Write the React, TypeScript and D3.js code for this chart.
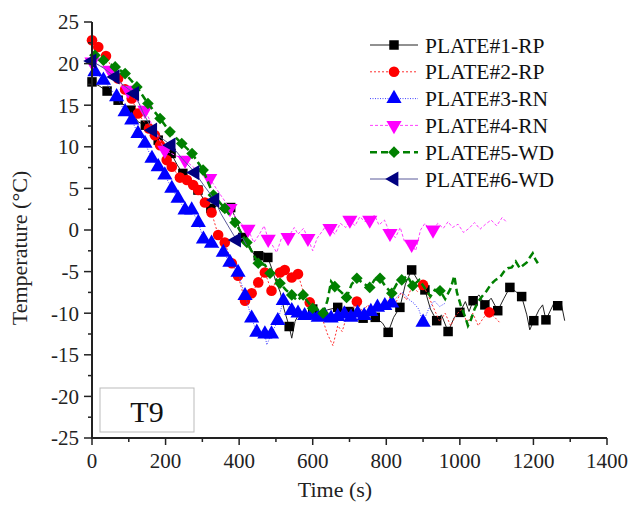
import React, { useEffect, useRef } from "react";
import * as d3 from "d3";

// [time (s), temperature (°C), marker?]
const plate1 = [
  [0, 17.8, 1], [20, 17.3], [41, 16.7, 1], [56, 16.2], [71, 15.6, 1], [88, 15.0], [106, 14.4, 1], [125, 13.0],
  [145, 12.6, 1], [162, 11.6], [180, 10.8, 1], [198, 10.0], [215, 9.2, 1], [232, 7.8], [247, 6.8, 1], [268, 5.9],
  [288, 4.8, 1], [305, 3.6], [323, 2.6, 1], [340, 2.9], [355, 2.2], [377, 2.7, 1], [393, 1.2], [410, -0.9, 1],
  [425, -1.5], [438, -2.8], [452, -3.1, 1], [465, -2.6], [478, -3.3, 1], [490, -4.8], [500, -6.2], [512, -7.5],
  [522, -9.5], [536, -11.6, 1], [543, -13.0], [552, -11.0], [565, -9.8], [580, -10.4], [600, -9.5, 1], [620, -10.0],
  [640, -9.6], [668, -9.3, 1], [685, -10.5], [700, -9.8, 1], [720, -10.2], [737, -10.6, 1], [755, -9.5], [770, -10.5, 1],
  [790, -11.2], [805, -12.3, 1], [820, -10.5], [837, -9.3, 1], [852, -6.5], [869, -4.8, 1], [885, -6.0], [905, -7.2, 1],
  [920, -9.5], [937, -10.9, 1], [950, -10.2], [968, -12.2, 1], [985, -10.5], [1000, -9.9, 1], [1015, -8.6], [1025, -9.8],
  [1036, -8.5, 1], [1052, -7.8], [1068, -9.0, 1], [1085, -8.2], [1103, -9.7, 1], [1120, -8.2], [1136, -6.9, 1],
  [1152, -7.4], [1168, -8.0, 1], [1182, -10.2], [1190, -12.0], [1201, -10.9, 1], [1215, -9.6], [1225, -9.0],
  [1234, -10.8, 1], [1248, -9.5], [1258, -8.6], [1266, -9.1, 1], [1275, -8.7], [1285, -10.9],
];

const plate2 = [
  [0, 22.8, 1], [17, 22.0, 1], [38, 20.9, 1], [55, 19.4], [71, 18.2, 1], [90, 16.9, 1], [108, 15.8, 1], [125, 14.0, 1],
  [140, 13.1], [155, 12.2, 1], [171, 11.4, 1], [185, 10.2, 1], [203, 8.4, 1], [217, 7.6, 1], [239, 6.3, 1], [258, 6.0, 1],
  [275, 5.4, 1], [289, 4.8, 1], [307, 3.3, 1], [325, 2.1, 1], [343, -0.6, 1], [361, -1.5, 1], [380, -4.0, 1],
  [397, -5.5, 1], [416, -8.5, 1], [434, -7.6, 1], [452, -6.3, 1], [470, -5.1, 1], [488, -7.3, 1], [511, -5.1, 1],
  [524, -4.8, 1], [543, -5.7, 1], [560, -5.3, 1], [575, -7.5], [592, -8.7, 1], [610, -9.5], [625, -10.5], [640, -12.5],
  [655, -13.9], [668, -11.5], [680, -12.2], [695, -10.0], [708, -9.5], [720, -8.6, 1], [735, -9.8], [750, -9.0],
  [765, -10.2], [780, -8.8], [795, -9.5], [810, -8.0], [825, -8.8], [840, -7.5], [855, -8.4], [870, -6.8], [885, -7.4],
  [900, -6.6, 1], [915, -8.0], [930, -9.5], [945, -11.0], [960, -10.0], [975, -11.5], [990, -10.2], [1005, -9.5],
  [1020, -11.2], [1035, -10.0], [1050, -11.5], [1065, -10.5], [1080, -9.9, 1], [1095, -10.5], [1110, -11.2],
];

const plate3 = [
  [0, 19.3], [8, 19.0, 1], [31, 18.0, 1], [50, 17.0], [67, 16.0, 1], [90, 14.2, 1], [108, 13.2, 1], [125, 11.6, 1],
  [144, 10.4, 1], [163, 8.6, 1], [180, 7.6, 1], [198, 6.6, 1], [217, 5.0, 1], [234, 3.8, 1], [253, 2.4, 1], [271, 2.4, 1],
  [289, 0.9, 1], [303, -1.1, 1], [325, -1.6, 1], [342, -2.0], [357, -2.7, 1], [375, -3.9, 1], [397, -5.1, 1],
  [416, -7.9, 1], [434, -10.6, 1], [448, -12.3, 1], [470, -12.5, 1], [475, -13.8], [488, -12.5, 1], [505, -10.9, 1],
  [520, -8.5, 1], [543, -9.7, 1], [560, -10.0, 1], [578, -10.3, 1], [597, -10.2, 1], [615, -10.5, 1], [633, -10.3, 1],
  [650, -10.6, 1], [668, -10.4, 1], [686, -10.1, 1], [704, -10.5, 1], [722, -10.0, 1], [740, -10.3, 1], [758, -9.8, 1],
  [776, -9.3, 1], [796, -9.1, 1], [815, -8.8, 1], [830, -8.0], [845, -7.5], [860, -8.3], [875, -8.8], [888, -9.5],
  [900, -11.1, 1], [915, -9.5], [930, -8.5], [945, -9.2], [960, -8.8],
];

const plate4 = [
  [0, 20.2, 1], [20, 19.8], [49, 19.2, 1], [70, 18.0], [98, 16.8, 1], [120, 15.6], [144, 14.4, 1], [170, 12.0],
  [198, 9.6, 1], [225, 9.0], [253, 8.4, 1], [285, 7.2], [320, 6.2, 1], [345, 4.5], [375, 2.6, 1], [395, 1.2], [410, 0.6],
  [424, 0.1, 1], [440, -1.5], [455, -0.5], [468, 0.5], [479, -1.1, 1], [490, -1.8], [502, -2.7], [515, -1.0],
  [533, -0.9, 1], [550, 0.3], [560, -0.5], [575, 0.2], [587, -1.0, 1], [600, -2.5], [612, -1.0], [625, -0.2], [636, 0.5],
  [647, 0.2, 1], [660, -0.5], [675, 0.8], [690, 0.3], [701, 1.2, 1], [715, 0.5], [728, 1.6], [742, 1.0], [755, 1.2, 1],
  [768, 1.8], [780, 0.6], [795, 1.2], [810, -0.4, 1], [825, -0.9], [838, 0.3], [850, -1.5], [869, -1.7, 1], [880, -2.5],
  [893, 0.0], [905, 0.8], [915, 0.2], [927, 0.0, 1], [940, 0.8], [955, 0.2], [968, 1.0], [980, 0.3], [995, 0.7],
  [1010, -0.3], [1025, 0.2], [1040, 0.9], [1055, 0.1], [1070, 0.7], [1085, 1.2], [1100, 0.5], [1115, 1.5], [1128, 0.9],
];

const plate5 = [
  [0, 21.3], [8, 21.0, 1], [31, 20.4, 1], [63, 19.6, 1], [90, 18.8, 1], [122, 17.2, 1], [152, 15.2, 1], [185, 13.4, 1],
  [212, 11.8, 1], [244, 10.4, 1], [272, 9.2, 1], [302, 7.2, 1], [330, 4.2, 1], [361, 2.6, 1], [389, 0.9, 1],
  [421, -1.5, 1], [437, -2.8], [452, -4.0, 1], [470, -4.2], [484, -5.2, 1], [511, -6.4, 1], [527, -7.2], [543, -7.8, 1],
  [558, -8.5], [574, -7.8, 1], [586, -8.6], [600, -9.4, 1], [614, -9.6], [628, -10.0, 1], [640, -8.5], [650, -6.2],
  [660, -6.8, 1], [676, -7.4], [692, -8.1, 1], [706, -6.5], [720, -5.8, 1], [737, -6.4], [755, -6.9, 1], [768, -6.0],
  [783, -5.8, 1], [798, -6.8], [815, -7.6, 1], [828, -6.5], [842, -6.0, 1], [857, -5.5], [872, -6.7, 1], [890, -6.0],
  [905, -7.0], [920, -8.0], [932, -7.2], [946, -7.3, 1], [960, -8.3], [975, -7.0], [985, -5.5], [992, -7.5],
  [1002, -9.0], [1015, -10.5], [1022, -11.5], [1030, -10.8], [1040, -9.5], [1050, -8.6], [1060, -8.0], [1073, -7.3],
  [1085, -6.5], [1097, -6.0], [1109, -5.7], [1120, -5.0], [1130, -4.6], [1141, -4.5], [1152, -3.8], [1163, -4.6],
  [1173, -4.2], [1182, -3.9], [1190, -3.3], [1198, -2.8], [1205, -3.5], [1212, -4.0],
];

const plate6 = [
  [0, 20.3, 1], [30, 19.5], [63, 18.4, 1], [85, 17.4], [116, 16.4, 1], [140, 14.0], [165, 12.0, 1], [190, 11.0],
  [215, 10.2, 1], [245, 8.6], [280, 6.9, 1], [305, 5.3], [334, 3.6, 1], [350, 2.0], [370, 0.5], [393, -1.2, 1],
  [410, -1.0], [420, -1.8],
];

const seriesNames = ["PLATE#1-RP", "PLATE#2-RP", "PLATE#3-RN", "PLATE#4-RN", "PLATE#5-WD", "PLATE#6-WD"];
const xTicks = [0, 200, 400, 600, 800, 1000, 1200, 1400];
const yTicks = [25, 20, 15, 10, 5, 0, -5, -10, -15, -20, -25];

const styles = [
  { color: "#000000", line: "#222", width: 1, dash: null, shape: "square" },
  { color: "#ff0000", line: "#ff3030", width: 1, dash: "2,2", shape: "circle" },
  { color: "#0000ff", line: "#4040ff", width: 1, dash: "1,1.5", shape: "up" },
  { color: "#ff00ff", line: "#ff40ff", width: 1, dash: "3,2", shape: "down" },
  { color: "#008000", line: "#008000", width: 2.5, dash: "7,4", shape: "diamond" },
  { color: "#000080", line: "#5a5a9a", width: 1, dash: null, shape: "left" },
];

const App = () => {
  const svgRef = useRef(null);

  useEffect(() => {
    const svg = d3.select(svgRef.current);
    svg.selectAll("*").remove();

    const x = d3.scaleLinear().domain([0, 1400]).range([92, 607]);
    const y = d3.scaleLinear().domain([-25, 25]).range([438, 22]);
    const font = "'Liberation Serif', 'Times New Roman', serif";

    const marker = (shape) => {
      if (shape === "square") return { d: d3.symbol(d3.symbolSquare, 90)(), rot: 0 };
      if (shape === "circle") return { d: d3.symbol(d3.symbolCircle, 88)(), rot: 0 };
      if (shape === "diamond") return { d: d3.symbol(d3.symbolSquare, 68)(), rot: 45 };
      const tri = d3.symbol(d3.symbolTriangle, 100)();
      if (shape === "up") return { d: tri, rot: 0 };
      if (shape === "down") return { d: tri, rot: 180 };
      return { d: tri, rot: -90 };
    };

    const all = [plate1, plate2, plate3, plate4, plate5, plate6];
    const line = d3
      .line()
      .x((d) => x(d[0]))
      .y((d) => y(d[1]));

    all.forEach((data, i) => {
      const st = styles[i];
      const g = svg.append("g");
      g.append("path")
        .attr("d", line(data))
        .attr("fill", "none")
        .attr("stroke", st.line)
        .attr("stroke-width", st.width)
        .attr("stroke-dasharray", st.dash);
      const m = marker(st.shape);
      g.selectAll(".m")
        .data(data.filter((d) => d[2]))
        .join("path")
        .attr("d", m.d)
        .attr("fill", st.color)
        .attr("transform", (d) => `translate(${x(d[0])},${y(d[1])}) rotate(${m.rot})`);
    });

    // axes
    const axisColor = "#222";
    svg.append("line").attr("x1", 92).attr("x2", 92).attr("y1", y(25)).attr("y2", y(-25))
      .attr("stroke", axisColor).attr("stroke-width", 2);
    svg.append("line").attr("x1", 91).attr("x2", x(1400)).attr("y1", 438).attr("y2", 438)
      .attr("stroke", axisColor).attr("stroke-width", 2);

    d3.range(-25, 25.1, 2.5).forEach((v) => {
      const major = v % 5 === 0;
      svg.append("line").attr("x1", 92).attr("x2", major ? 84 : 88)
        .attr("y1", y(v)).attr("y2", y(v)).attr("stroke", axisColor).attr("stroke-width", 1.5);
    });
    d3.range(0, 1401, 100).forEach((v) => {
      const major = v % 200 === 0;
      svg.append("line").attr("y1", 438).attr("y2", major ? 445 : 442)
        .attr("x1", x(v)).attr("x2", x(v)).attr("stroke", axisColor).attr("stroke-width", 1.5);
    });

    svg.selectAll(".yt").data(yTicks).join("text")
      .attr("x", 79).attr("y", (d) => y(d)).attr("dy", "0.35em")
      .attr("text-anchor", "end").attr("font-family", font).attr("font-size", 21)
      .attr("fill", "#222").text((d) => d);
    svg.selectAll(".xt").data(xTicks).join("text")
      .attr("x", (d) => x(d)).attr("y", 468)
      .attr("text-anchor", "middle").attr("font-family", font).attr("font-size", 21)
      .attr("fill", "#222").text((d) => d);

    svg.append("text").attr("transform", "translate(27,248) rotate(-90)")
      .attr("text-anchor", "middle").attr("font-family", font).attr("font-size", 22)
      .attr("fill", "#222").text("Temperature (°C)");
    svg.append("text").attr("x", 335).attr("y", 497)
      .attr("text-anchor", "middle").attr("font-family", font).attr("font-size", 22)
      .attr("fill", "#222").text("Time (s)");

    // legend
    const leg = svg.append("g");
    seriesNames.forEach((name, i) => {
      const st = styles[i];
      const cy = 45 + i * 26.8;
      leg.append("line").attr("x1", 370).attr("x2", 418).attr("y1", cy).attr("y2", cy)
        .attr("stroke", st.line).attr("stroke-width", st.width).attr("stroke-dasharray", st.dash);
      const m = marker(st.shape);
      leg.append("path").attr("d", m.d).attr("fill", st.color)
        .attr("transform", `translate(394,${cy}) rotate(${m.rot})`);
      leg.append("text").attr("x", 425).attr("y", cy + 7.5)
        .attr("font-family", font).attr("font-size", 21.5).attr("fill", "#111").text(name);
    });

    // label box
    svg.append("rect").attr("x", 100).attr("y", 388).attr("width", 94).attr("height", 44)
      .attr("fill", "none").attr("stroke", "#bbb").attr("stroke-width", 1);
    svg.append("text").attr("x", 147).attr("y", 422).attr("text-anchor", "middle")
      .attr("font-family", font).attr("font-size", 30).attr("fill", "#111").text("T9");
  }, []);

  return (
    <svg
      ref={svgRef}
      width={631}
      height={505}
      style={{ position: "absolute", left: 0, top: 0, background: "#fff" }}
    ></svg>
  );
};

export default App;
